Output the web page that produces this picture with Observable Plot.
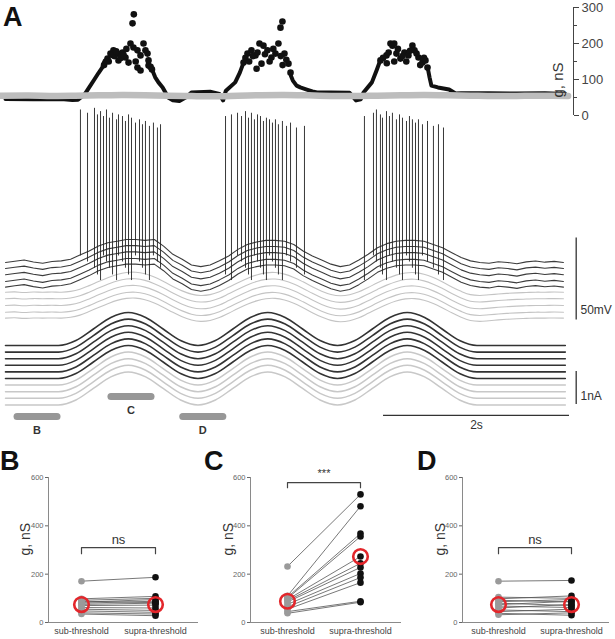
<!DOCTYPE html>
<html><head><meta charset="utf-8">
<script src="https://cdn.jsdelivr.net/npm/d3@7"></script>
<script src="https://cdn.jsdelivr.net/npm/@observablehq/plot@0.6"></script>
<style>
body{margin:0;background:#fff;}
#fig{position:relative;width:615px;height:639px;overflow:hidden;}
#fig svg{position:absolute;overflow:visible;background:transparent;}
</style></head>
<body><div id="fig"></div>
<script>
const FONT = '"Liberation Sans", Arial, Helvetica, sans-serif';

// ---------- Panel A: conductance (t in s, g in nS) ----------
const gMajorTicks = [0, 100, 200, 300];
const gMinorTicks = [50, 150, 250];
const gBlackLine = [[0,46],[0.3,45],[0.6,46],[0.72,43],[0.78,44],[0.82,52],[0.86,62],[0.9,78],[0.95,98],[1.0,118],[1.04,133],[1.06,148],[1.3,NaN],[1.58,125],[1.61,106],[1.645,92],[1.69,78],[1.72,64],[1.75,50],[1.8,42],[1.87,40],[1.95,52],[2.0,64],[2.2,66],[2.3,60],[2.34,42],[2.37,69],[2.47,92],[2.52,119],[2.56,147],[2.8,NaN],[3.07,110],[3.09,97],[3.13,83],[3.17,78],[3.24,72],[3.3,67],[3.35,64],[3.5,64],[3.7,63],[3.77,42],[3.82,45],[3.85,64],[3.94,92],[3.99,125],[4.03,153],[4.3,NaN],[4.54,133],[4.56,106],[4.58,83],[4.65,78],[4.71,75],[4.77,72],[4.84,61],[4.9,62],[5.2,62],[5.5,61],[5.8,62],[6.02,60]];
const gBurstDots = [[1.097,158],[1.129,172],[1.161,181],[1.204,172],[1.215,153],[1.258,175],[1.29,161],[1.323,147],[1.344,200],[1.376,189],[1.366,256],[1.38,281],[1.419,181],[1.452,167],[1.484,200],[1.505,181],[1.527,172],[1.538,153],[1.419,133],[1.452,125],[1.538,139],[1.11,150],[1.17,165],[1.24,160],[1.30,185],[1.40,150],[1.06,140],[1.08,150],[1.56,135],[1.575,128],[1.15,168],[1.19,178],[1.27,168],
  [2.56,147],[2.602,172],[2.645,181],[2.688,167],[2.731,200],[2.774,194],[2.753,144],[2.817,181],[2.86,161],[2.903,172],[2.935,200],[2.957,244],[2.978,261],[3.0,172],[3.043,144],[3.065,119],[2.58,160],[2.62,150],[2.66,165],[2.71,175],[2.79,170],[2.84,150],[2.88,185],[2.96,165],[3.02,155],[2.70,130],[2.98,140],
  [4.032,153],[4.097,167],[4.14,200],[4.161,194],[4.204,172],[4.247,158],[4.29,175],[4.333,167],[4.376,194],[4.398,181],[4.441,161],[4.484,147],[4.516,153],[4.538,133],[4.06,160],[4.12,175],[4.18,150],[4.22,185],[4.27,165],[4.31,150],[4.35,180],[4.42,172],[4.46,140],[4.50,160],[4.10,145],[4.18,200]];
const gGrayT = [-0.05,0.25,0.5,0.75,1.0,1.25,1.5,1.75,2.0,2.25,2.5,2.75,3.0,3.25,3.5,3.75,4.0,4.25,4.5,4.75,5.0,5.25,5.5,5.75,6.05];
const gGrayV = [55,55.5,54.5,55,56,57,56.5,55,54,53.5,55,56.5,57,56,54.5,54,55,56,57,56,55,54,54.5,55,54.5];

// ---------- Panel A: membrane potential (mV) ----------
const tGrid = [0,0.1,0.2,0.3,0.4,0.5,0.6,0.7,0.8,0.9,1.0,1.1,1.2,1.3,1.4,1.5,1.6,1.7,1.8,1.9,2.0,2.1,2.2,2.3,2.4,2.5,2.6,2.7,2.8,2.9,3.0,3.1,3.2,3.3,3.4,3.5,3.6,3.7,3.8,3.9,4.0,4.1,4.2,4.3,4.4,4.5,4.6,4.7,4.8,4.9,5.0,5.1,5.2,5.3,5.4,5.5,5.6,5.7,5.8,5.9,6.0];
const vDarkShape = [0,0.8,1.5,0.3,-0.5,0.6,1.0,2.0,4.5,7,10,12,13,14,14,13.5,14,10,5,2,-1.5,-2.5,-1.5,1,4,8,11,12.5,13.5,13.5,13,11,7,4,1.5,-1,-2.5,-1.5,1.5,5,9,11.5,13,13.5,13.5,13,11,9,6,3,1,0,-0.5,0.5,0,-0.8,0.4,0.9,0.2,0.7,0];
const vLightShape = [0,0.2,-0.2,0.1,0,0.1, 0,0.5,1.8,4,6.5,8.8,10.8,12,12.2,11.2,9.2,6.5,3.5,0.8,-1.2, -2,-1.5,0.3,3,5.8,8.4,10.5,11.8,12,11,9,6.3,3.3,0.6,-1.4, -2.2,-1.6,0.2,2.9,5.7,8.3,10.4,11.7,11.9,10.9,8.9,6.2,3.2,0.5,-1.5, -2,-1.6,-1.1,-0.7,-0.4,-0.2,0,0,0.1,0];
const restMv = -60;
const vDarkOffsets = [0,-3.7,-7.5,-11.6,-15];
const vLightOffsets = [-18.1,-22.1,-26.2,-30.3,-33.9];
const spikeT = [0.806,0.882,0.957,0.989,1.022,1.054,1.086,1.118,1.151,1.194,1.215,1.258,1.290,1.323,1.355,1.398,1.441,1.473,1.505,1.548,1.591,1.634,1.667,
  2.366,2.430,2.495,2.538,2.581,2.613,2.645,2.677,2.710,2.742,2.774,2.806,2.839,2.871,2.903,2.935,2.978,3.022,3.065,3.129,3.215,
  3.860,3.957,3.989,4.032,4.054,4.097,4.129,4.161,4.204,4.237,4.269,4.312,4.344,4.376,4.409,4.441,4.484,4.538,4.602,4.656,4.710];
const spikePeak = [33,31,34,30,32,29,33,28,31,27,30,29,26,30,28,25,27,24,26,23,25,22,24,
  29,30,31,29,32,28,31,27,30,29,26,28,27,25,27,24,26,23,25,22,23,
  29,31,33,30,28,32,29,31,27,30,28,26,29,27,25,27,24,26,23,24,22];
const mvBar = {t: 6.137, from: -95, to: -45, label: "50mV", labelT: 6.183, labelV: -89.3};

// ---------- Panel A: injected current (nA) ----------
const iT = [0,0.57,0.7575,0.945,1.1325,1.32,1.5075,1.695,1.8825,2.07,2.2575,2.445,2.6325,2.82,3.0075,3.195,3.3825,3.57,3.7575,3.945,4.1325,4.32,4.5075,4.695,4.8825,5.07,6.02];
const iShape = [0,0,0.15,0.5,0.85,1,0.85,0.5,0.15,0,0.15,0.5,0.85,1,0.85,0.5,0.15,0,0.15,0.5,0.85,1,0.85,0.5,0.15,0,0];
const iDarkOffsets = [0,-0.2,-0.4,-0.6,-0.8,-1.0];
const iLightOffsets = [-1.2,-1.4,-1.6,-1.8];
const nABar = {t: 6.137, from: -1.79, to: -0.79, label: "1nA", labelT: 6.183, labelV: -1.55};
const timeBar = {t1: 4.065, t2: 6.065, v: -2.12, label: "2s", labelV: -2.42};
const windowLabels = ["B", "C", "D"];
const windowT1 = [0.124, 1.134, 1.906];
const windowT2 = [0.554, 1.565, 2.337];
const windowLevel = [-2.15, -1.545, -2.15];
const windowLabelLevel = [-2.58, -1.97, -2.58];

// ---------- Panels B, C, D: paired conductances (nS) ----------
const categories = ["sub-threshold", "supra-threshold"];
const yTicksBCD = [0, 200, 400, 600];
const bSub   = [171,98,92,88,84,80,75,70,62,55,48,40,35];
const bSupra = [187,108,100,82,95,88,80,72,60,50,42,35,28];
const bMean  = [74,74];
const cSub   = [232,110,105,100,95,90,85,75,65,55,45,38];
const cSupra = [530,481,368,356,273,245,228,203,186,165,88,84];
const cMean  = [88,273];
const dSub   = [171,105,98,92,86,80,74,68,60,52,45,38,32];
const dSupra = [174,100,110,85,95,70,88,62,75,45,55,30,40];
const dMean  = [74,74];
const sigLabels = ["ns", "***", "ns"];
const sigLabelY = [343, 616, 343];
const bracketLow = [285, 558, 285];
const bracketHigh = [310, 579, 310];

// ---------- build ----------
const root = document.getElementById("fig");
function place(el, left, top){ el.style.left = left + "px"; el.style.top = top + "px"; root.appendChild(el); }
const baseStyle = {background: "transparent", overflow: "visible", fontFamily: FONT};

// voltage plot
const vRows = [];
vLightOffsets.forEach((o,k) => tGrid.forEach((t,j) => vRows.push({t, v: restMv + o + vLightShape[j], trace: "L"+k, kind: "light"})));
vDarkOffsets.forEach((o,k) => tGrid.forEach((t,j) => vRows.push({t, v: restMv + o + vDarkShape[j], trace: "D"+k, kind: "dark"})));
const spikes = spikeT.map((t,i) => ({t, peak: spikePeak[i], base: restMv + vDarkOffsets[i % 5] + 4}));
const vPlot = Plot.plot({
  width: 615, height: 230, marginLeft: 5, marginRight: 42, marginTop: 6.2, marginBottom: 2.4,
  x: {domain: [0, 6.108], axis: null}, y: {domain: [-100, 35], axis: null}, style: baseStyle,
  marks: [
    Plot.line(vRows.filter(d => d.kind === "light"), {x: "t", y: "v", z: "trace", stroke: "#c4c4c4", strokeWidth: 1.1, curve: "catmull-rom"}),
    Plot.line(vRows.filter(d => d.kind === "dark"), {x: "t", y: "v", z: "trace", stroke: "#3c3c3c", strokeWidth: 1.1}),
    Plot.ruleX(spikes, {x: "t", y1: "base", y2: "peak", stroke: "#222", strokeWidth: 0.9}),
    Plot.ruleX([mvBar], {x: "t", y1: "from", y2: "to", stroke: "#333", strokeWidth: 1.3}),
    Plot.text([mvBar], {x: "labelT", y: "labelV", text: "label", textAnchor: "start", fontSize: 12, fill: "#333"})
  ]
});
place(vPlot, 0, 100);

// conductance plot
const gPlot = Plot.plot({
  width: 615, height: 125, marginLeft: 5, marginRight: 42, marginTop: 7, marginBottom: 10,
  x: {domain: [0, 6.108], axis: null}, y: {domain: [0, 300]}, style: baseStyle,
  marks: [
    Plot.line(gBlackLine, {x: d => d[0], y: d => d[1], stroke: "#111", strokeWidth: 4, strokeLinejoin: "round", strokeLinecap: "round"}),
    Plot.dot(gBurstDots, {x: d => d[0], y: d => d[1], r: 3.3, fill: "#111"}),
    Plot.line(gGrayT, {x: d => d, y: (d,i) => gGrayV[i], stroke: "#bdbdbd", strokeWidth: 6.5, curve: "catmull-rom", strokeLinecap: "round"}),
    Plot.ruleX([6.108], {y1: 0, y2: 300, stroke: "#444", strokeWidth: 1}),
    Plot.axisY(gMajorTicks, {anchor: "right", tickSize: 5, tickPadding: 3, fontSize: 13, color: "#444", label: null}),
    Plot.axisY(gMinorTicks, {anchor: "right", tickSize: 3, tickFormat: () => "", color: "#444", label: null}),
    Plot.text(["g, nS"], {frameAnchor: "right", rotate: -90, dx: -15, dy: 1, fontSize: 15, fill: "#333"})
  ]
});
place(gPlot, 0, 0);

// current plot
const iRows = [];
iDarkOffsets.forEach((o,k) => iT.forEach((t,j) => iRows.push({t, i: iShape[j] + o, trace: "D"+k, kind: "dark"})));
iLightOffsets.forEach((o,k) => iT.forEach((t,j) => iRows.push({t, i: iShape[j] + o, trace: "L"+k, kind: "light"})));
const windows = windowLabels.map((l,k) => ({label: l, t1: windowT1[k], t2: windowT2[k], lv: windowLevel[k], llv: windowLabelLevel[k], tm: (windowT1[k] + windowT2[k]) / 2}));
const iPlot = Plot.plot({
  width: 615, height: 160, marginLeft: 5, marginRight: 42, marginTop: 5.4, marginBottom: 16,
  x: {domain: [0, 6.108], axis: null}, y: {domain: [-3, 1.2], axis: null}, style: baseStyle,
  marks: [
    Plot.line(iRows.filter(d => d.kind === "light"), {x: "t", y: "i", z: "trace", stroke: "#c8c8c8", strokeWidth: 1.5, curve: "monotone-x"}),
    Plot.line(iRows.filter(d => d.kind === "dark"), {x: "t", y: "i", z: "trace", stroke: "#333", strokeWidth: 1.6, curve: "monotone-x"}),
    Plot.ruleX([nABar], {x: "t", y1: "from", y2: "to", stroke: "#333", strokeWidth: 1.3}),
    Plot.text([nABar], {x: "labelT", y: "labelV", text: "label", textAnchor: "start", fontSize: 12, fill: "#333"}),
    Plot.ruleY([timeBar], {y: "v", x1: "t1", x2: "t2", stroke: "#333", strokeWidth: 1.3}),
    Plot.text([timeBar], {x: d => (d.t1 + d.t2) / 2, y: "labelV", text: "label", fontSize: 12, fill: "#333"}),
    Plot.link(windows, {x1: "t1", x2: "t2", y1: "lv", y2: "lv", stroke: "#979797", strokeWidth: 7, strokeLinecap: "round"}),
    Plot.text(windows, {x: "tm", y: "llv", text: "label", fontSize: 11, fontWeight: "bold", fill: "#333"})
  ]
});
place(iPlot, 0, 300);

// paired panels
function panel(marginLeft, marginRight, xr, sub, supra, mean, idx, labelDx){
  const pairs = sub.map((s,i) => ({sub: s, supra: supra[i]}));
  const means = categories.map((c,k) => ({cat: c, g: mean[k]}));
  const bracket = [
    {cat: categories[0], g: bracketLow[idx]}, {cat: categories[0], g: bracketHigh[idx]},
    {cat: categories[1], g: bracketHigh[idx]}, {cat: categories[1], g: bracketLow[idx]}];
  return Plot.plot({
    width: 205, height: 179, marginLeft, marginRight, marginTop: 17, marginBottom: 17,
    x: {type: "point", domain: categories, range: [marginLeft + xr[0], marginLeft + xr[1]], padding: 0, axis: null},
    y: {domain: [0, 600]}, style: baseStyle,
    marks: [
      Plot.frame({anchor: "left", stroke: "#8a8a8a"}),
      Plot.frame({anchor: "bottom", stroke: "#8a8a8a"}),
      Plot.axisY(yTicksBCD, {anchor: "left", tickSize: 3, tickPadding: 2, fontSize: 7.5, color: "#666", label: null}),
      Plot.link(pairs, {x1: () => categories[0], y1: "sub", x2: () => categories[1], y2: "supra", stroke: "#555", strokeWidth: 0.8}),
      Plot.dot(pairs, {x: () => categories[0], y: "sub", r: 3.3, fill: "#9a9a9a"}),
      Plot.dot(pairs, {x: () => categories[1], y: "supra", r: 3.3, fill: "#111"}),
      Plot.dot(means, {x: "cat", y: "g", r: 7.3, stroke: "#e3262b", strokeWidth: 2.6, fill: "none"}),
      Plot.line(bracket, {x: "cat", y: "g", stroke: "#444", strokeWidth: 1.2}),
      Plot.text([sigLabels[idx]], {x: () => categories[0], y: () => sigLabelY[idx], dx: (xr[1] - xr[0]) / 2, fontSize: idx === 1 ? 11 : 13, fill: "#333"}),
      Plot.text(categories, {x: d => d, frameAnchor: "bottom", dy: 11, fontSize: 9, fill: "#444"}),
      Plot.text(["g, nS"], {frameAnchor: "left", rotate: -90, dx: labelDx, dy: 5.5, fontSize: 14, fill: "#333"})
    ]
  });
}
place(panel(48, 8, [33, 107], bSub, bSupra, bMean, 0, -23), 0, 460);
place(panel(50, 5, [37, 110], cSub, cSupra, cMean, 1, -22), 200, 460);
place(panel(52, 7, [36, 109], dSub, dSupra, dMean, 2, -22), 410, 460);

// panel letters
const letters = [{t: "A", x: 3, y: 26}, {t: "B", x: 0, y: 470}, {t: "C", x: 204, y: 470}, {t: "D", x: 417, y: 470}];
const ov = d3.create("svg").attr("width", 615).attr("height", 639).style("left", "0px").style("top", "0px");
ov.selectAll("text").data(letters).join("text")
  .attr("x", d => d.x).attr("y", d => d.y).text(d => d.t)
  .attr("font-family", FONT).attr("font-weight", "bold").attr("font-size", 27).attr("fill", "#111");
root.appendChild(ov.node());
</script>
</body></html>
